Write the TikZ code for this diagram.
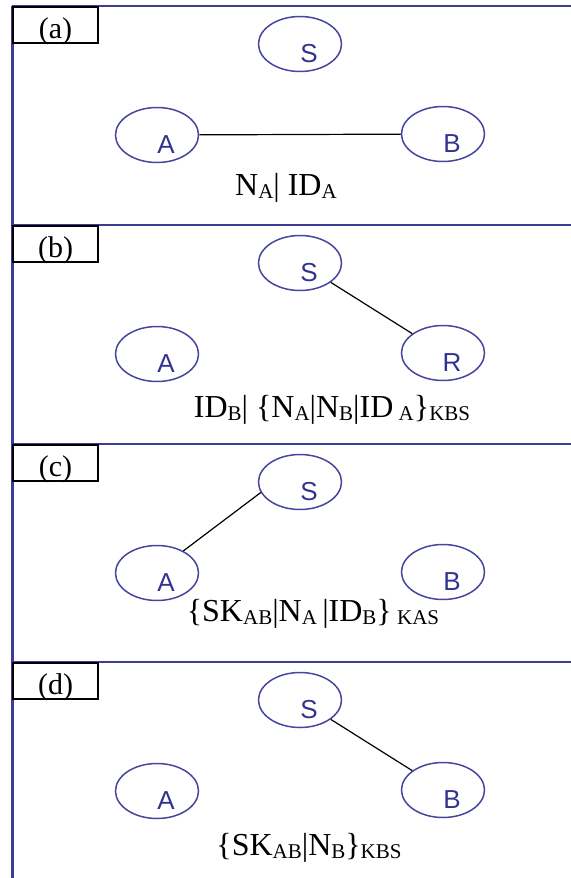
\documentclass[tikz,border=0pt]{standalone}
\usepackage{fontspec}
\setmainfont{Liberation Serif}
\setsansfont{Liberation Sans}
\usetikzlibrary{shapes.geometric, positioning}
\definecolor{framecol}{RGB}{60,60,150}
\definecolor{partycol}{RGB}{70,70,160}
\definecolor{lettercol}{RGB}{50,50,145}
\newcommand{\ix}[1]{\raisebox{-1.5pt}{\fontsize{10.5}{10.5}\selectfont #1}}

\begin{document}
\begin{tikzpicture}[x=0.5pt, y=-0.5pt, line width=0.6pt,
  frame/.style={draw=framecol, line width=1.25pt},
  party/.style={ellipse, draw=partycol, line width=0.75pt, minimum width=41.5pt, minimum height=27.5pt, inner sep=0pt,
    label={[font=\sffamily\fontsize{13}{13}\selectfont, text=lettercol, shift={(9,10)}]center:#1}},
  tag/.style={draw, line width=1pt, minimum width=42.5pt, minimum height=18pt, inner sep=0pt, anchor=north west,
    label={[font=\fontsize{15}{15}\selectfont, shift={(0,6)}]center:#1}},
  msg/.style={font=\fontsize{16}{16}\selectfont, inner sep=0pt}]
\useasboundingbox (0,0) rectangle (571,878);

% frame
\draw[frame] (12.5,6) -- (12.5,878);
\draw[frame] (12,6) -- (571,6);
\draw[frame] (12,225) -- (571,225);
\draw[frame] (12,444) -- (571,444);
\draw[frame] (12,662) -- (571,662);

% (a)
\node[tag={(a)}] (ta) at (12,6) {};
\node[party=S] (Sa) at (300,44) {};
\node[party=A] (Aa) at (157,135) {};
\node[party=B] (Ba) at (443,134) {};
\draw (Aa) -- (Ba);
\node[msg] (ma) at (286,188) {N\ix{A}| ID\ix{A}};

% (b)
\node[tag={(b)}] (tb) at (12,225) {};
\node[party=S] (Sb) at (300,263) {};
\node[party=A] (Ab) at (157,354) {};
\node[party=R] (Rb) at (443,353) {};
\draw (Sb) -- (Rb);
\node[msg] (mb) at (332,410) {ID\ix{B}| \{N\ix{A}|N\ix{B}|ID\,\ix{A}\}\ix{KBS}};

% (c)
\node[tag={(c)}] (tc) at (12,444) {};
\node[party=S] (Sc) at (300,482) {};
\node[party=A] (Ac) at (157,573) {};
\node[party=B] (Bc) at (443,572) {};
\draw (Sc.195) -- (Ac.40);
\node[msg] (mc) at (313,614) {\{SK\ix{AB}|N\ix{A}\,|ID\ix{B}\}\,\ix{KAS}};

% (d)
\node[tag={(d)}] (td) at (12,662) {};
\node[party=S] (Sd) at (300,700) {};
\node[party=A] (Ad) at (157,791) {};
\node[party=B] (Bd) at (443,790) {};
\draw (Sd) -- (Bd);
\node[msg] (md) at (309,848) {\{SK\ix{AB}|N\ix{B}\}\ix{KBS}};
\end{tikzpicture}
\end{document}
